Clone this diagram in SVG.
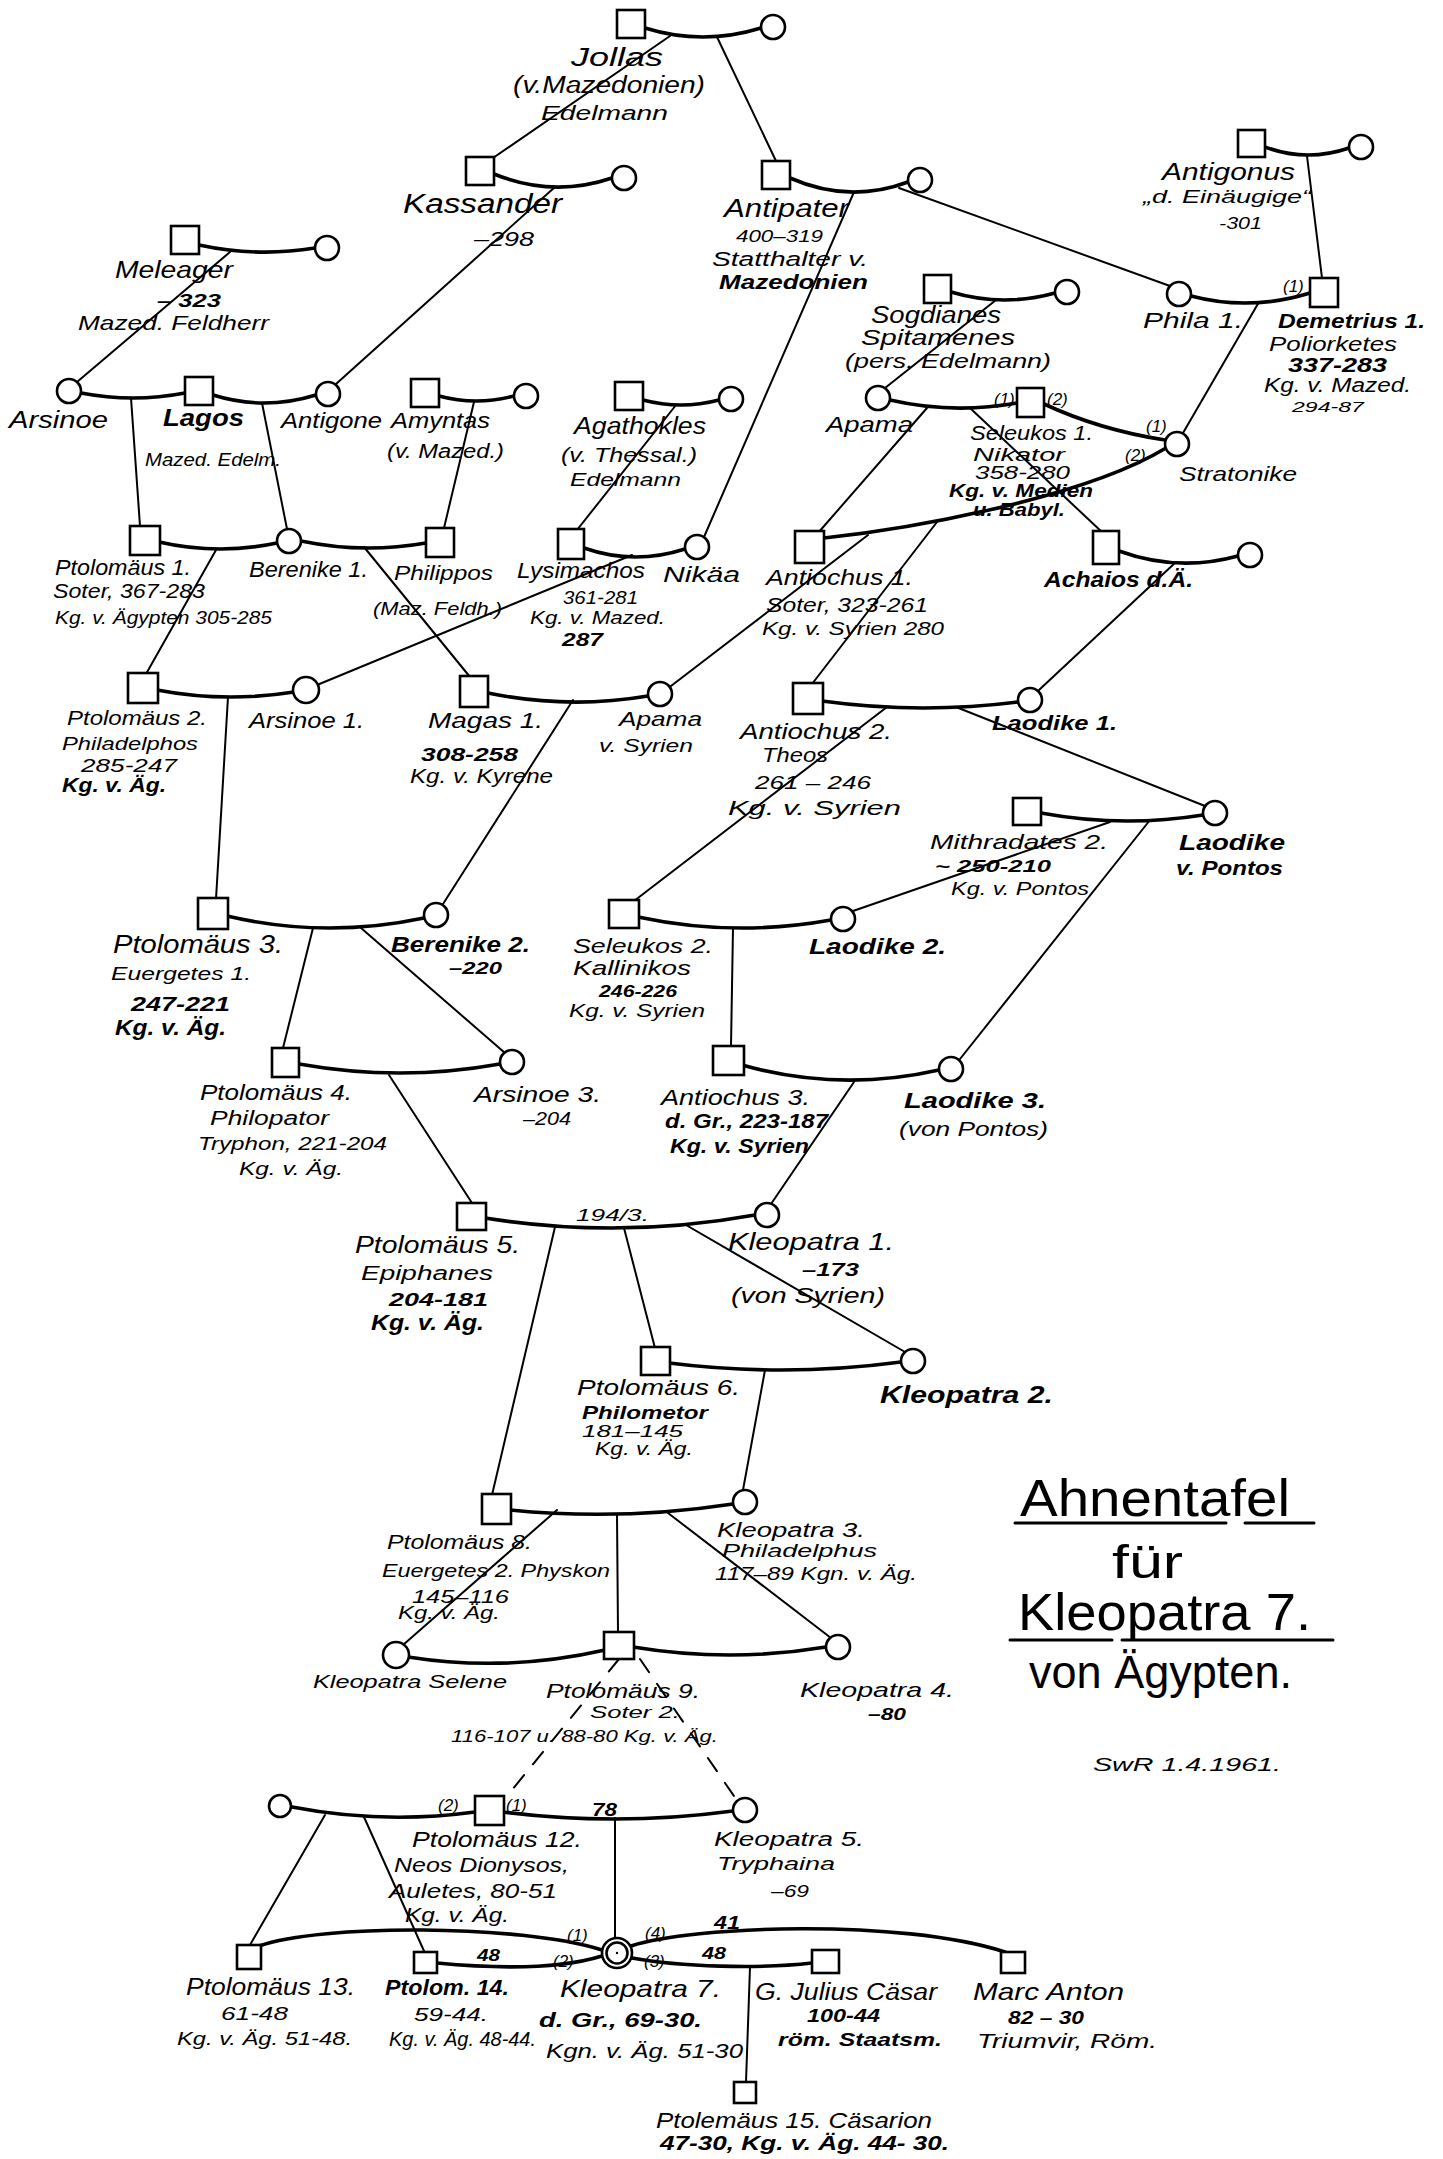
<svg xmlns="http://www.w3.org/2000/svg" width="1443" height="2159" viewBox="0 0 1443 2159">
<style>
.sq{fill:#fff;stroke:#000;stroke-width:2.6}
.ci{fill:#fff;stroke:#000;stroke-width:2.6}
.mar{fill:none;stroke:#000;stroke-width:3.6;stroke-linecap:round}
.des{fill:none;stroke:#000;stroke-width:2;stroke-linecap:round}
.dash{stroke-dasharray:16 14}
.ul{stroke:#000;stroke-width:3;stroke-linecap:round}
text{font-family:"Liberation Sans",Arial,sans-serif;font-style:italic;fill:#000}
.b{font-weight:bold}
.t14{font-size:14px}.t15{font-size:15px}.t16{font-size:16px}.t17{font-size:17px}.t18{font-size:18px}.t19{font-size:19px}.t20{font-size:20px}.t21{font-size:21px}.t22{font-size:22px}.t23{font-size:23px}.t24{font-size:24px}.t25{font-size:25px}.t26{font-size:26px}.t27{font-size:27px}
.title{font-size:52px;font-style:normal}
.title2{font-size:46px;font-style:normal}
</style>
<rect width="1443" height="2159" fill="#fff"/>

<g id="connectors">
<path class="mar" d="M645 28 Q703 46 761 28"/>
<path class="mar" d="M494 174 Q553 198 612 178"/>
<path class="mar" d="M199 245 Q257 257.5 315 248"/>
<path class="mar" d="M790 178 Q849 204 908 182"/>
<path class="mar" d="M1265 147 Q1307 162.5 1349 148"/>
<path class="mar" d="M81 393 Q133 403 185 393"/>
<path class="mar" d="M213 395 Q264 411 316 395"/>
<path class="mar" d="M439 396 Q476 406 514 396"/>
<path class="mar" d="M643 400 Q681 410 719 400"/>
<path class="mar" d="M951 292 Q1003 307.5 1055 293"/>
<path class="mar" d="M1191 296 Q1250 311.5 1310 293"/>
<path class="mar" d="M890 400 Q953 414.5 1017 403"/>
<path class="mar" d="M1044 404 Q1100 430 1165 440"/>
<path class="mar" d="M159 542 Q218 555.5 277 543"/>
<path class="mar" d="M301 541 Q363 554 426 543"/>
<path class="mar" d="M584 548 Q634 565.5 685 549"/>
<path class="mar" d="M824 538 C900 530 1080 500 1166 448"/>
<path class="mar" d="M1119 551 Q1178 572.5 1238 556"/>
<path class="mar" d="M157 690 Q225 703 294 692"/>
<path class="mar" d="M488 693 Q568 709.5 648 696"/>
<path class="mar" d="M822 701 Q920 714.5 1018 702"/>
<path class="mar" d="M1041 813 Q1122 828 1203 815"/>
<path class="mar" d="M227 916 Q325 939 424 918"/>
<path class="mar" d="M638 917 Q734 937.5 831 920"/>
<path class="mar" d="M299 1064 Q400 1082 500 1064"/>
<path class="mar" d="M742 1065 Q840 1092.5 939 1070"/>
<path class="mar" d="M485 1218 Q620 1239.5 755 1215"/>
<path class="mar" d="M669 1363 Q785 1377.5 901 1362"/>
<path class="mar" d="M510 1510 Q621 1521 733 1504"/>
<path class="mar" d="M408 1657 Q506 1672.5 605 1650"/>
<path class="mar" d="M633 1647 Q730 1663 826 1647"/>
<path class="mar" d="M292 1807 Q383 1824.5 475 1812"/>
<path class="mar" d="M503 1812 Q618 1826.5 733 1811"/>
<path class="mar" d="M259 1946 C320 1924 520 1924 602 1950"/>
<path class="mar" d="M437 1963 C500 1969 560 1969 602 1956"/>
<path class="mar" d="M632 1958 C680 1967 760 1969 812 1963"/>
<path class="mar" d="M631 1946 C690 1926 900 1918 1005 1952"/>
<path class="des" d="M670 36 L493 158"/>
<path class="des" d="M717 37 L776 161"/>
<path class="des" d="M555 187 L336 384"/>
<path class="des" d="M230 252 L77 382"/>
<path class="des" d="M854 192 L704 537"/>
<path class="des" d="M899 188 L1170 286"/>
<path class="des" d="M1307 156 L1322 278"/>
<path class="des" d="M131 398 L140 526"/>
<path class="des" d="M262 403 L287 529"/>
<path class="des" d="M474 402 L444 528"/>
<path class="des" d="M676 405 L577 530"/>
<path class="des" d="M996 300 L885 388"/>
<path class="des" d="M1259 302 L1183 433"/>
<path class="des" d="M927 408 L818 533"/>
<path class="des" d="M970 408 L1103 533"/>
<path class="des" d="M216 550 L146 674"/>
<path class="des" d="M364 547 L470 677"/>
<path class="des" d="M632 555 L317 685"/>
<path class="des" d="M868 535 L671 686"/>
<path class="des" d="M937 522 L812 684"/>
<path class="des" d="M1176 562 L1039 690"/>
<path class="des" d="M228 697 L216 899"/>
<path class="des" d="M573 700 L443 904"/>
<path class="des" d="M887 707 L634 901"/>
<path class="des" d="M956 707 L1205 806"/>
<path class="des" d="M1110 822 L853 911"/>
<path class="des" d="M1150 820 L960 1059"/>
<path class="des" d="M313 928 L283 1048"/>
<path class="des" d="M361 928 L505 1053"/>
<path class="des" d="M733 928 L731 1046"/>
<path class="des" d="M389 1075 L472 1203"/>
<path class="des" d="M854 1082 L771 1204"/>
<path class="des" d="M555 1227 L492 1495"/>
<path class="des" d="M624 1228 L655 1348"/>
<path class="des" d="M686 1225 L905 1352"/>
<path class="des" d="M765 1370 L743 1490"/>
<path class="des" d="M557 1510 L403 1645"/>
<path class="des" d="M617 1515 L618 1632"/>
<path class="des" d="M668 1513 L831 1638"/>
<path class="des dash" d="M619 1659 L507 1796"/>
<path class="des dash" d="M640 1659 L736 1799"/>
<path class="des" d="M325 1815 L250 1945"/>
<path class="des" d="M364 1817 L424 1951"/>
<path class="des" d="M615 1818 L615 1938"/>
<path class="des" d="M750 1967 L746 2082"/>
<text class="t17" x="1283" y="292">(1)</text>
<text class="t17" x="994" y="405">(1)</text>
<text class="t17" x="1047" y="405">(2)</text>
<text class="t17" x="1146" y="432">(1)</text>
<text class="t17" x="1125" y="461">(2)</text>
<text class="t16" x="576" y="1221" textLength="73" lengthAdjust="spacingAndGlyphs">194/3.</text>
<text class="t17" x="438" y="1811">(2)</text>
<text class="t17" x="506" y="1811">(1)</text>
<text class="t18 b" x="592" y="1816" textLength="25" lengthAdjust="spacingAndGlyphs">78</text>
<text class="t17" x="567" y="1941">(1)</text>
<text class="t17" x="645" y="1939">(4)</text>
<text class="t17" x="553" y="1967">(2)</text>
<text class="t17" x="644" y="1967">(3)</text>
<text class="t17 b" x="477" y="1961" textLength="23" lengthAdjust="spacingAndGlyphs">48</text>
<text class="t17 b" x="702" y="1959" textLength="24" lengthAdjust="spacingAndGlyphs">48</text>
<text class="t18 b" x="714" y="1929" textLength="26" lengthAdjust="spacingAndGlyphs">41</text>
</g>

<g id="jollas"><rect class="sq" x="617" y="10" width="28" height="28"/><circle class="ci" cx="773" cy="27" r="12"/>
<text class="t26" x="571" y="66" textLength="92" lengthAdjust="spacingAndGlyphs">Jollas</text>
<text class="t23" x="513" y="93" textLength="192" lengthAdjust="spacingAndGlyphs">(v.Mazedonien)</text>
<text class="t20" x="541" y="120" textLength="127" lengthAdjust="spacingAndGlyphs">Edelmann</text></g>

<g id="kassander"><rect class="sq" x="466" y="157" width="28" height="28"/><circle class="ci" cx="624" cy="178" r="12"/>
<text class="t27" x="403" y="213" textLength="159" lengthAdjust="spacingAndGlyphs">Kassander</text>
<text class="t20" x="474" y="246" textLength="60" lengthAdjust="spacingAndGlyphs">–298</text></g>

<g id="meleager"><rect class="sq" x="171" y="226" width="28" height="28"/><circle class="ci" cx="327" cy="248" r="12"/>
<text class="t24" x="115" y="278" textLength="118" lengthAdjust="spacingAndGlyphs">Meleager</text>
<text class="t19 b" x="157" y="307" textLength="64" lengthAdjust="spacingAndGlyphs">– 323</text>
<text class="t21" x="78" y="330" textLength="191" lengthAdjust="spacingAndGlyphs">Mazed. Feldherr</text></g>

<g id="antipater"><rect class="sq" x="762" y="161" width="28" height="28"/><circle class="ci" cx="920" cy="180" r="12"/>
<text class="t26" x="724" y="217" textLength="125" lengthAdjust="spacingAndGlyphs">Antipater</text>
<text class="t17" x="736" y="242" textLength="87" lengthAdjust="spacingAndGlyphs">400–319</text>
<text class="t20" x="712" y="266" textLength="156" lengthAdjust="spacingAndGlyphs">Statthalter v.</text>
<text class="t21 b" x="719" y="289" textLength="149" lengthAdjust="spacingAndGlyphs">Mazedonien</text></g>

<g id="antigonus"><rect class="sq" x="1238" y="130" width="27" height="27"/><circle class="ci" cx="1361" cy="147" r="12"/>
<text class="t23" x="1162" y="180" textLength="133" lengthAdjust="spacingAndGlyphs">Antigonus</text>
<text class="t19" x="1143" y="203" textLength="168" lengthAdjust="spacingAndGlyphs">„d. Einäugige“</text>
<text class="t16" x="1219" y="229" textLength="43" lengthAdjust="spacingAndGlyphs">-301</text></g>

<g id="arsinoe"><circle class="ci" cx="69" cy="391" r="12"/>
<text class="t24" x="9" y="428" textLength="99" lengthAdjust="spacingAndGlyphs">Arsinoe</text></g>

<g id="lagos"><rect class="sq" x="185" y="377" width="28" height="28"/>
<text class="t24 b" x="163" y="426" textLength="81" lengthAdjust="spacingAndGlyphs">Lagos</text>
<text class="t18" x="145" y="466" textLength="136" lengthAdjust="spacingAndGlyphs">Mazed. Edelm.</text></g>

<g id="antigone"><circle class="ci" cx="328" cy="394" r="12"/>
<text class="t22" x="281" y="428" textLength="101" lengthAdjust="spacingAndGlyphs">Antigone</text></g>

<g id="amyntas"><rect class="sq" x="411" y="379" width="28" height="28"/><circle class="ci" cx="526" cy="396" r="12"/>
<text class="t22" x="391" y="428" textLength="99" lengthAdjust="spacingAndGlyphs">Amyntas</text>
<text class="t20" x="387" y="458" textLength="117" lengthAdjust="spacingAndGlyphs">(v. Mazed.)</text></g>

<g id="agathokles"><rect class="sq" x="615" y="382" width="28" height="28"/><circle class="ci" cx="731" cy="399" r="12"/>
<text class="t24" x="574" y="434" textLength="132" lengthAdjust="spacingAndGlyphs">Agathokles</text>
<text class="t21" x="561" y="462" textLength="136" lengthAdjust="spacingAndGlyphs">(v. Thessal.)</text>
<text class="t19" x="570" y="486" textLength="111" lengthAdjust="spacingAndGlyphs">Edelmann</text></g>

<g id="sogdianes"><rect class="sq" x="924" y="275" width="27" height="28"/><circle class="ci" cx="1067" cy="292" r="12"/>
<text class="t23" x="871" y="323" textLength="130" lengthAdjust="spacingAndGlyphs">Sogdianes</text>
<text class="t22" x="861" y="345" textLength="154" lengthAdjust="spacingAndGlyphs">Spitamenes</text>
<text class="t21" x="845" y="368" textLength="206" lengthAdjust="spacingAndGlyphs">(pers. Edelmann)</text></g>

<g id="phila"><circle class="ci" cx="1179" cy="294" r="12"/>
<text class="t22" x="1143" y="328" textLength="100" lengthAdjust="spacingAndGlyphs">Phila 1.</text></g>

<g id="demetrius"><rect class="sq" x="1310" y="278" width="28" height="29"/>
<text class="t21 b" x="1278" y="328" textLength="147" lengthAdjust="spacingAndGlyphs">Demetrius 1.</text>
<text class="t20" x="1269" y="351" textLength="128" lengthAdjust="spacingAndGlyphs">Poliorketes</text>
<text class="t20 b" x="1288" y="372" textLength="99" lengthAdjust="spacingAndGlyphs">337-283</text>
<text class="t20" x="1264" y="392" textLength="147" lengthAdjust="spacingAndGlyphs">Kg. v. Mazed.</text>
<text class="t15" x="1292" y="412" textLength="72" lengthAdjust="spacingAndGlyphs">294-87</text></g>

<g id="apama"><circle class="ci" cx="878" cy="398" r="12"/>
<text class="t22" x="826" y="432" textLength="87" lengthAdjust="spacingAndGlyphs">Apama</text></g>

<g id="seleukos1"><rect class="sq" x="1017" y="388" width="27" height="29"/>
<text class="t21" x="970" y="440" textLength="123" lengthAdjust="spacingAndGlyphs">Seleukos 1.</text>
<text class="t19" x="973" y="461" textLength="92" lengthAdjust="spacingAndGlyphs">Nikator</text>
<text class="t18" x="975" y="479" textLength="95" lengthAdjust="spacingAndGlyphs">358-280</text>
<text class="t19 b" x="949" y="497" textLength="144" lengthAdjust="spacingAndGlyphs">Kg. v. Medien</text>
<text class="t18 b" x="973" y="516" textLength="92" lengthAdjust="spacingAndGlyphs">u. Babyl.</text></g>

<g id="stratonike"><circle class="ci" cx="1177" cy="444" r="12"/>
<text class="t21" x="1179" y="481" textLength="118" lengthAdjust="spacingAndGlyphs">Stratonike</text></g>

<g id="ptolemaeus1"><rect class="sq" x="130" y="526" width="30" height="29"/>
<text class="t22" x="55" y="575" textLength="136" lengthAdjust="spacingAndGlyphs">Ptolomäus 1.</text>
<text class="t20" x="53" y="598" textLength="152" lengthAdjust="spacingAndGlyphs">Soter, 367-283</text>
<text class="t18" x="55" y="624" textLength="217" lengthAdjust="spacingAndGlyphs">Kg. v. Ägypten 305-285</text></g>

<g id="berenike1"><circle class="ci" cx="289" cy="541" r="12"/>
<text class="t22" x="249" y="577" textLength="119" lengthAdjust="spacingAndGlyphs">Berenike 1.</text></g>

<g id="philippos"><rect class="sq" x="426" y="528" width="28" height="29"/>
<text class="t21" x="394" y="580" textLength="99" lengthAdjust="spacingAndGlyphs">Philippos</text>
<text class="t19" x="373" y="615" textLength="129" lengthAdjust="spacingAndGlyphs">(Maz. Feldh.)</text></g>

<g id="lysimachos"><rect class="sq" x="558" y="529" width="26" height="30"/>
<text class="t22" x="517" y="578" textLength="128" lengthAdjust="spacingAndGlyphs">Lysimachos</text>
<text class="t18" x="563" y="604" textLength="75" lengthAdjust="spacingAndGlyphs">361-281</text>
<text class="t19" x="530" y="624" textLength="135" lengthAdjust="spacingAndGlyphs">Kg. v. Mazed.</text>
<text class="t18 b" x="562" y="646" textLength="41" lengthAdjust="spacingAndGlyphs">287</text></g>

<g id="nikaea"><circle class="ci" cx="697" cy="547" r="12"/>
<text class="t22" x="663" y="582" textLength="77" lengthAdjust="spacingAndGlyphs">Nikäa</text></g>

<g id="antiochus1"><rect class="sq" x="795" y="531" width="29" height="32"/>
<text class="t22" x="766" y="585" textLength="147" lengthAdjust="spacingAndGlyphs">Antiochus 1.</text>
<text class="t20" x="766" y="612" textLength="162" lengthAdjust="spacingAndGlyphs">Soter, 323-261</text>
<text class="t19" x="762" y="635" textLength="182" lengthAdjust="spacingAndGlyphs">Kg. v. Syrien 280</text></g>

<g id="achaios"><rect class="sq" x="1093" y="531" width="26" height="33"/><circle class="ci" cx="1250" cy="555" r="12"/>
<text class="t22 b" x="1044" y="587" textLength="149" lengthAdjust="spacingAndGlyphs">Achaios d.Ä.</text></g>

<g id="ptolemaeus2"><rect class="sq" x="128" y="673" width="30" height="30"/>
<text class="t21" x="67" y="725" textLength="140" lengthAdjust="spacingAndGlyphs">Ptolomäus 2.</text>
<text class="t19" x="62" y="750" textLength="136" lengthAdjust="spacingAndGlyphs">Philadelphos</text>
<text class="t19" x="81" y="772" textLength="96" lengthAdjust="spacingAndGlyphs">285-247</text>
<text class="t21 b" x="62" y="792" textLength="104" lengthAdjust="spacingAndGlyphs">Kg. v. Äg.</text></g>

<g id="arsinoe1"><circle class="ci" cx="306" cy="690" r="13"/>
<text class="t22" x="249" y="728" textLength="115" lengthAdjust="spacingAndGlyphs">Arsinoe 1.</text></g>

<g id="magas"><rect class="sq" x="460" y="676" width="28" height="31"/>
<text class="t22" x="428" y="728" textLength="115" lengthAdjust="spacingAndGlyphs">Magas 1.</text>
<text class="t19 b" x="421" y="761" textLength="97" lengthAdjust="spacingAndGlyphs">308-258</text>
<text class="t20" x="410" y="783" textLength="143" lengthAdjust="spacingAndGlyphs">Kg. v. Kyrene</text></g>

<g id="apama-syrien"><circle class="ci" cx="660" cy="694" r="12"/>
<text class="t21" x="619" y="726" textLength="83" lengthAdjust="spacingAndGlyphs">Apama</text>
<text class="t19" x="599" y="752" textLength="94" lengthAdjust="spacingAndGlyphs">v. Syrien</text></g>

<g id="antiochus2"><rect class="sq" x="793" y="683" width="30" height="31"/>
<text class="t22" x="740" y="739" textLength="152" lengthAdjust="spacingAndGlyphs">Antiochus 2.</text>
<text class="t20" x="762" y="762" textLength="66" lengthAdjust="spacingAndGlyphs">Theos</text>
<text class="t19" x="755" y="789" textLength="116" lengthAdjust="spacingAndGlyphs">261 – 246</text>
<text class="t20" x="728" y="815" textLength="173" lengthAdjust="spacingAndGlyphs">Kg. v. Syrien</text></g>

<g id="laodike1"><circle class="ci" cx="1030" cy="700" r="12"/>
<text class="t21 b" x="992" y="730" textLength="125" lengthAdjust="spacingAndGlyphs">Laodike 1.</text></g>

<g id="mithradates"><rect class="sq" x="1013" y="798" width="28" height="27"/>
<text class="t21" x="930" y="849" textLength="178" lengthAdjust="spacingAndGlyphs">Mithradates 2.</text>
<text class="t16 b" x="935" y="872" textLength="116" lengthAdjust="spacingAndGlyphs">~ 250-210</text>
<text class="t19" x="951" y="895" textLength="138" lengthAdjust="spacingAndGlyphs">Kg. v. Pontos</text></g>

<g id="laodike-pontos"><circle class="ci" cx="1215" cy="813" r="12"/>
<text class="t22 b" x="1179" y="850" textLength="106" lengthAdjust="spacingAndGlyphs">Laodike</text>
<text class="t21 b" x="1176" y="875" textLength="107" lengthAdjust="spacingAndGlyphs">v. Pontos</text></g>

<g id="ptolemaeus3"><rect class="sq" x="198" y="898" width="30" height="31"/>
<text class="t25" x="113" y="953" textLength="170" lengthAdjust="spacingAndGlyphs">Ptolomäus 3.</text>
<text class="t19" x="111" y="980" textLength="140" lengthAdjust="spacingAndGlyphs">Euergetes 1.</text>
<text class="t20 b" x="131" y="1011" textLength="99" lengthAdjust="spacingAndGlyphs">247-221</text>
<text class="t22 b" x="115" y="1035" textLength="111" lengthAdjust="spacingAndGlyphs">Kg. v. Äg.</text></g>

<g id="berenike2"><circle class="ci" cx="436" cy="915" r="12"/>
<text class="t22 b" x="391" y="952" textLength="139" lengthAdjust="spacingAndGlyphs">Berenike 2.</text>
<text class="t17 b" x="449" y="974" textLength="53" lengthAdjust="spacingAndGlyphs">–220</text></g>

<g id="seleukos2"><rect class="sq" x="609" y="900" width="30" height="28"/>
<text class="t21" x="573" y="953" textLength="140" lengthAdjust="spacingAndGlyphs">Seleukos 2.</text>
<text class="t20" x="573" y="975" textLength="118" lengthAdjust="spacingAndGlyphs">Kallinikos</text>
<text class="t16 b" x="599" y="997" textLength="78" lengthAdjust="spacingAndGlyphs">246-226</text>
<text class="t19" x="569" y="1017" textLength="136" lengthAdjust="spacingAndGlyphs">Kg. v. Syrien</text></g>

<g id="laodike2"><circle class="ci" cx="843" cy="919" r="12"/>
<text class="t22 b" x="809" y="954" textLength="137" lengthAdjust="spacingAndGlyphs">Laodike 2.</text></g>

<g id="ptolemaeus4"><rect class="sq" x="272" y="1048" width="27" height="29"/>
<text class="t22" x="200" y="1100" textLength="152" lengthAdjust="spacingAndGlyphs">Ptolomäus 4.</text>
<text class="t20" x="210" y="1125" textLength="119" lengthAdjust="spacingAndGlyphs">Philopator</text>
<text class="t19" x="198" y="1150" textLength="189" lengthAdjust="spacingAndGlyphs">Tryphon, 221-204</text>
<text class="t19" x="239" y="1175" textLength="104" lengthAdjust="spacingAndGlyphs">Kg. v. Äg.</text></g>

<g id="arsinoe3"><circle class="ci" cx="512" cy="1062" r="12"/>
<text class="t22" x="474" y="1102" textLength="127" lengthAdjust="spacingAndGlyphs">Arsinoe 3.</text>
<text class="t18" x="523" y="1125" textLength="48" lengthAdjust="spacingAndGlyphs">–204</text></g>

<g id="antiochus3"><rect class="sq" x="713" y="1046" width="31" height="29"/>
<text class="t22" x="661" y="1105" textLength="149" lengthAdjust="spacingAndGlyphs">Antiochus 3.</text>
<text class="t20 b" x="665" y="1128" textLength="163" lengthAdjust="spacingAndGlyphs">d. Gr., 223-187</text>
<text class="t20 b" x="670" y="1153" textLength="139" lengthAdjust="spacingAndGlyphs">Kg. v. Syrien</text></g>

<g id="laodike3"><circle class="ci" cx="951" cy="1069" r="12"/>
<text class="t22 b" x="904" y="1108" textLength="142" lengthAdjust="spacingAndGlyphs">Laodike 3.</text>
<text class="t20" x="899" y="1136" textLength="149" lengthAdjust="spacingAndGlyphs">(von Pontos)</text></g>

<g id="ptolemaeus5"><rect class="sq" x="457" y="1203" width="29" height="27"/>
<text class="t24" x="355" y="1253" textLength="165" lengthAdjust="spacingAndGlyphs">Ptolomäus 5.</text>
<text class="t20" x="361" y="1280" textLength="132" lengthAdjust="spacingAndGlyphs">Epiphanes</text>
<text class="t19 b" x="389" y="1306" textLength="99" lengthAdjust="spacingAndGlyphs">204-181</text>
<text class="t22 b" x="371" y="1330" textLength="113" lengthAdjust="spacingAndGlyphs">Kg. v. Äg.</text></g>

<g id="kleopatra1"><circle class="ci" cx="767" cy="1215" r="12"/>
<text class="t24" x="728" y="1250" textLength="166" lengthAdjust="spacingAndGlyphs">Kleopatra 1.</text>
<text class="t18 b" x="802" y="1276" textLength="57" lengthAdjust="spacingAndGlyphs">–173</text>
<text class="t22" x="731" y="1303" textLength="154" lengthAdjust="spacingAndGlyphs">(von Syrien)</text></g>

<g id="ptolemaeus6"><rect class="sq" x="641" y="1347" width="29" height="28"/>
<text class="t22" x="577" y="1395" textLength="163" lengthAdjust="spacingAndGlyphs">Ptolomäus 6.</text>
<text class="t19 b" x="582" y="1419" textLength="126" lengthAdjust="spacingAndGlyphs">Philometor</text>
<text class="t17" x="582" y="1437" textLength="101" lengthAdjust="spacingAndGlyphs">181–145</text>
<text class="t18" x="595" y="1455" textLength="98" lengthAdjust="spacingAndGlyphs">Kg. v. Äg.</text></g>

<g id="kleopatra2"><circle class="ci" cx="913" cy="1361" r="12"/>
<text class="t24 b" x="880" y="1403" textLength="173" lengthAdjust="spacingAndGlyphs">Kleopatra 2.</text></g>

<g id="ptolemaeus8"><rect class="sq" x="482" y="1494" width="29" height="30"/>
<text class="t20" x="387" y="1549" textLength="145" lengthAdjust="spacingAndGlyphs">Ptolomäus 8.</text>
<text class="t18" x="382" y="1577" textLength="228" lengthAdjust="spacingAndGlyphs">Euergetes 2. Physkon</text>
<text class="t18" x="412" y="1603" textLength="97" lengthAdjust="spacingAndGlyphs">145–116</text>
<text class="t18" x="398" y="1619" textLength="102" lengthAdjust="spacingAndGlyphs">Kg. v. Äg.</text></g>

<g id="kleopatra3"><circle class="ci" cx="745" cy="1502" r="12"/>
<text class="t20" x="717" y="1537" textLength="148" lengthAdjust="spacingAndGlyphs">Kleopatra 3.</text>
<text class="t19" x="722" y="1557" textLength="155" lengthAdjust="spacingAndGlyphs">Philadelphus</text>
<text class="t18" x="715" y="1580" textLength="202" lengthAdjust="spacingAndGlyphs">117–89 Kgn. v. Äg.</text></g>

<g id="kleopatra-selene"><circle class="ci" cx="396" cy="1655" r="13"/>
<text class="t19" x="313" y="1688" textLength="194" lengthAdjust="spacingAndGlyphs">Kleopatra Selene</text></g>

<g id="ptolemaeus9"><rect class="sq" x="604" y="1632" width="30" height="27"/>
<text class="t20" x="546" y="1698" textLength="154" lengthAdjust="spacingAndGlyphs">Ptolomäus 9.</text>
<text class="t17" x="590" y="1718" textLength="90" lengthAdjust="spacingAndGlyphs">Soter 2.</text>
<text class="t16" x="451" y="1742" textLength="267" lengthAdjust="spacingAndGlyphs">116-107 u. 88-80 Kg. v. Äg.</text></g>

<g id="kleopatra4"><circle class="ci" cx="838" cy="1647" r="12"/>
<text class="t21" x="800" y="1697" textLength="154" lengthAdjust="spacingAndGlyphs">Kleopatra 4.</text>
<text class="t16 b" x="868" y="1720" textLength="38" lengthAdjust="spacingAndGlyphs">–80</text></g>

<g id="ptolemaeus12"><rect class="sq" x="475" y="1796" width="29" height="29"/>
<text class="t22" x="412" y="1847" textLength="170" lengthAdjust="spacingAndGlyphs">Ptolomäus 12.</text>
<text class="t21" x="394" y="1872" textLength="175" lengthAdjust="spacingAndGlyphs">Neos Dionysos,</text>
<text class="t21" x="389" y="1898" textLength="168" lengthAdjust="spacingAndGlyphs">Auletes, 80-51</text>
<text class="t21" x="405" y="1922" textLength="104" lengthAdjust="spacingAndGlyphs">Kg. v. Äg.</text></g>

<g id="ptolemaeus12-wife"><circle class="ci" cx="280" cy="1806" r="11"/></g>

<g id="kleopatra5"><circle class="ci" cx="745" cy="1810" r="12"/>
<text class="t20" x="714" y="1846" textLength="150" lengthAdjust="spacingAndGlyphs">Kleopatra 5.</text>
<text class="t19" x="717" y="1870" textLength="118" lengthAdjust="spacingAndGlyphs">Tryphaina</text>
<text class="t16" x="771" y="1897" textLength="38" lengthAdjust="spacingAndGlyphs">–69</text></g>

<g id="ptolemaeus13"><rect class="sq" x="237" y="1945" width="24" height="24"/>
<text class="t23" x="186" y="1995" textLength="169" lengthAdjust="spacingAndGlyphs">Ptolomäus 13.</text>
<text class="t19" x="221" y="2020" textLength="67" lengthAdjust="spacingAndGlyphs">61-48</text>
<text class="t19" x="177" y="2045" textLength="175" lengthAdjust="spacingAndGlyphs">Kg. v. Äg. 51-48.</text></g>

<g id="ptolemaeus14"><rect class="sq" x="414" y="1952" width="23" height="21"/>
<text class="t22 b" x="385" y="1995" textLength="124" lengthAdjust="spacingAndGlyphs">Ptolom. 14.</text>
<text class="t19" x="414" y="2021" textLength="74" lengthAdjust="spacingAndGlyphs">59-44.</text>
<text class="t20" x="389" y="2046" textLength="147" lengthAdjust="spacingAndGlyphs">Kg. v. Äg. 48-44.</text></g>

<g id="kleopatra7"><circle class="ci" cx="617" cy="1953" r="15"/><circle class="ci" cx="617" cy="1953" r="10.5"/><circle cx="617" cy="1953" r="1.2" fill="#000"/>
<text class="t24" x="560" y="1997" textLength="161" lengthAdjust="spacingAndGlyphs">Kleopatra 7.</text>
<text class="t21 b" x="539" y="2027" textLength="163" lengthAdjust="spacingAndGlyphs">d. Gr., 69-30.</text>
<text class="t20" x="546" y="2058" textLength="197" lengthAdjust="spacingAndGlyphs">Kgn. v. Äg. 51-30</text></g>

<g id="caesar"><rect class="sq" x="812" y="1950" width="27" height="23"/>
<text class="t23" x="755" y="2000" textLength="182" lengthAdjust="spacingAndGlyphs">G. Julius Cäsar</text>
<text class="t18 b" x="807" y="2022" textLength="73" lengthAdjust="spacingAndGlyphs">100-44</text>
<text class="t19 b" x="778" y="2046" textLength="164" lengthAdjust="spacingAndGlyphs">röm. Staatsm.</text></g>

<g id="marc-anton"><rect class="sq" x="1001" y="1952" width="24" height="21"/>
<text class="t24" x="973" y="2000" textLength="151" lengthAdjust="spacingAndGlyphs">Marc Anton</text>
<text class="t18 b" x="1008" y="2024" textLength="76" lengthAdjust="spacingAndGlyphs">82 – 30</text>
<text class="t20" x="977" y="2048" textLength="180" lengthAdjust="spacingAndGlyphs">Triumvir, Röm.</text></g>

<g id="caesarion"><rect class="sq" x="734" y="2082" width="22" height="21"/>
<text class="t22" x="656" y="2128" textLength="276" lengthAdjust="spacingAndGlyphs">Ptolemäus 15. Cäsarion</text>
<text class="t21 b" x="660" y="2150" textLength="289" lengthAdjust="spacingAndGlyphs">47-30, Kg. v. Äg. 44- 30.</text></g>

<g id="title">
<text class="title" x="1020" y="1516" textLength="270" lengthAdjust="spacingAndGlyphs">Ahnentafel</text>
<line class="ul" x1="1015" y1="1523" x2="1226" y2="1523"/>
<line class="ul" x1="1245" y1="1523" x2="1314" y2="1523"/>
<text class="title2" x="1112" y="1578" textLength="71" lengthAdjust="spacingAndGlyphs">für</text>
<text class="title" x="1018" y="1630" textLength="293" lengthAdjust="spacingAndGlyphs">Kleopatra 7.</text>
<line class="ul" x1="1010" y1="1640" x2="1112" y2="1640"/>
<line class="ul" x1="1122" y1="1640" x2="1333" y2="1640"/>
<text class="title2" x="1029" y="1688" textLength="263" lengthAdjust="spacingAndGlyphs">von Ägypten.</text>
<text class="t18" x="1093" y="1771" textLength="188" lengthAdjust="spacingAndGlyphs">SwR 1.4.1961.</text>
</g>
</svg>
